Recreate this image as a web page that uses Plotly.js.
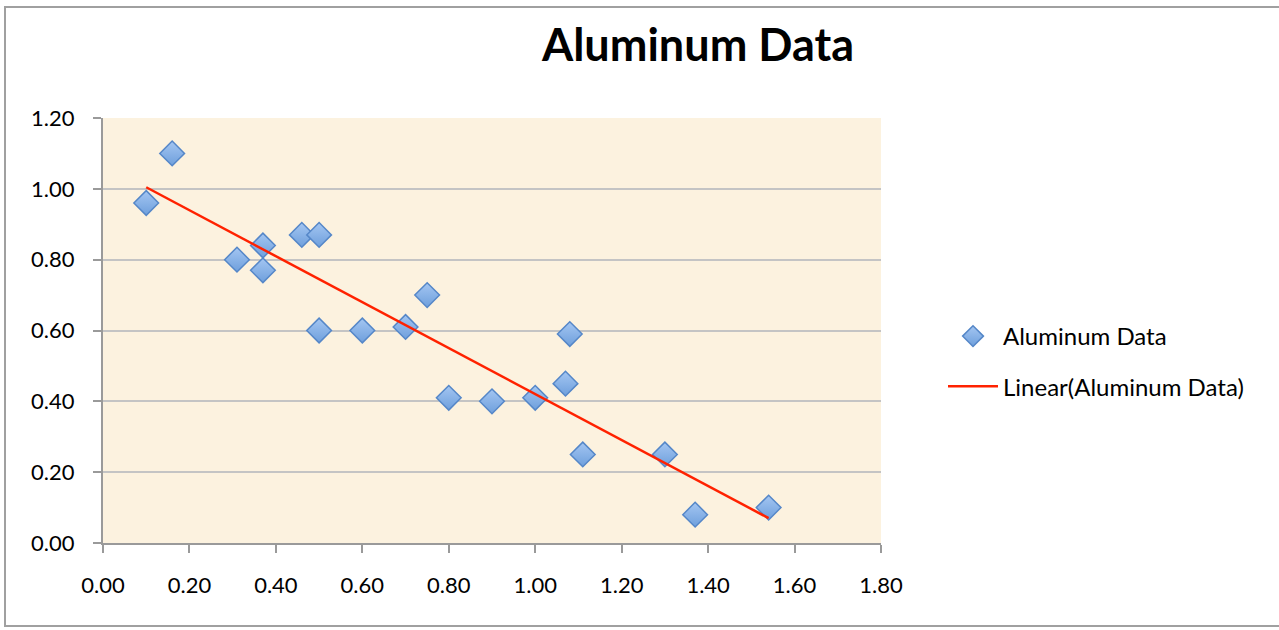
<!DOCTYPE html>
<html><head><meta charset="utf-8">
<script src="https://cdn.plot.ly/plotly-3.0.1.min.js"></script>
<style>
html,body{margin:0;padding:0;background:#fff;width:1279px;height:630px;overflow:hidden;}
#frame{position:absolute;left:4px;top:6px;width:1290px;height:621px;border:2px solid #a0a0a0;box-sizing:border-box;}
#chart{position:absolute;left:0;top:0;width:1279px;height:630px;}
</style></head>
<body>
<div id="frame"></div>
<div id="chart"></div>
<script>
const seriesName = "Aluminum Data";
const trendName = "Linear(Aluminum Data)";
const xValues = [0.10,0.16,0.31,0.37,0.37,0.46,0.50,0.50,0.60,0.70,0.75,0.80,0.90,1.00,1.07,1.08,1.11,1.30,1.37,1.54];
const yValues = [0.96,1.10,0.80,0.84,0.77,0.87,0.87,0.60,0.60,0.61,0.70,0.41,0.40,0.41,0.45,0.59,0.25,0.25,0.08,0.10];
const xTicks = [0,0.2,0.4,0.6,0.8,1.0,1.2,1.4,1.6,1.8];
const yTicks = [0,0.2,0.4,0.6,0.8,1.0,1.2];

// least squares linear fit (as Excel trendline)
const n = xValues.length;
const mx = xValues.reduce((a,b)=>a+b,0)/n;
const my = yValues.reduce((a,b)=>a+b,0)/n;
let sxy=0, sxx=0;
for(let i=0;i<n;i++){sxy+=(xValues[i]-mx)*(yValues[i]-my); sxx+=(xValues[i]-mx)**2;}
const slope = sxy/sxx, intercept = my - slope*mx;
const xmin = Math.min(...xValues), xmax = Math.max(...xValues);
const trendX = [xmin, xmax];
const trendY = trendX.map(x=>intercept+slope*x);

const font = "Lato, 'Open Sans', sans-serif";
const data = [
  {x:xValues, y:yValues, type:'scatter', mode:'markers', name:seriesName, legendgroup:'a',
   marker:{symbol:'diamond', size:19, color:'#a4c6f2', gradient:{type:'vertical', color:'#6e9fdc'}, line:{color:'#5587c8', width:1.5}}},
  {x:trendX, y:trendY, type:'scatter', mode:'lines', name:trendName, legendgroup:'b',
   line:{color:'#ff2200', width:2.5}}
];
const layout = {
  width:1279, height:630,
  margin:{l:103, r:398, t:118, b:87},
  paper_bgcolor:'rgba(0,0,0,0)',
  plot_bgcolor:'#fcf2df',
  font:{family:font, size:22, color:'#000'},
  title:{text:'<b>Aluminum Data</b>', font:{family:font, size:45, color:'#000'}, xref:'container', yref:'container', x:698/1279, xanchor:'center', y:1-45/630, yanchor:'middle'},
  xaxis:{range:[0,1.8], tickvals:xTicks, ticktext:xTicks.map(v=>v.toFixed(2)), showgrid:false, zeroline:false,
         showline:true, linecolor:'#9a9a9a', linewidth:2, ticks:'outside', ticklen:8, tickwidth:2, tickcolor:'#9a9a9a',
         ticklabelstandoff:14, tickfont:{size:22}, fixedrange:true},
  yaxis:{range:[0,1.2], tickvals:yTicks, ticktext:yTicks.map(v=>v.toFixed(2)), showgrid:true, gridcolor:'#c4c4c4', gridwidth:2, zeroline:false,
         showline:true, linecolor:'#9a9a9a', linewidth:2, ticks:'outside', ticklen:8, tickwidth:2, tickcolor:'#9a9a9a',
         ticklabelstandoff:14, tickfont:{size:22}, fixedrange:true},
  showlegend:true,
  legend:{x:943/1279, xref:'container', y:1-314/630, yref:'container', xanchor:'left', yanchor:'top', bgcolor:'rgba(0,0,0,0)',
          font:{size:24}, itemwidth:50, traceorder:'grouped', tracegroupgap:16},
};
Plotly.newPlot('chart', data, layout, {displayModeBar:false, staticPlot:true});
</script>
</body></html>
